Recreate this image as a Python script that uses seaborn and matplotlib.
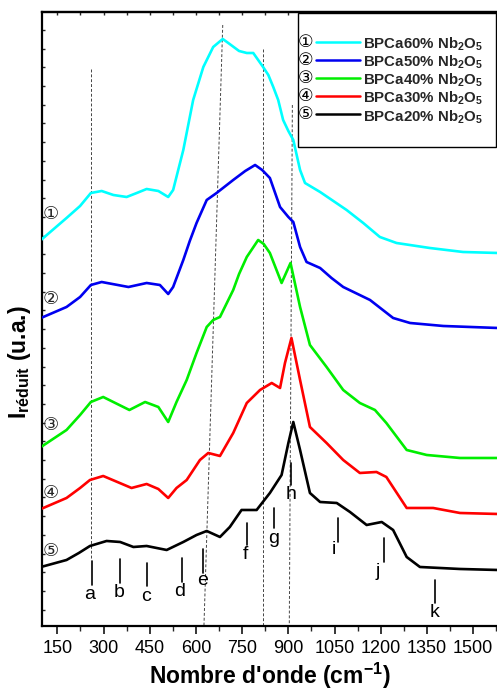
import numpy as np
import pandas as pd
import seaborn as sns
import matplotlib
matplotlib.use("Agg")
import matplotlib.pyplot as plt
from matplotlib.lines import Line2D
from matplotlib.text import Text
from matplotlib.legend_handler import HandlerLine2D
from matplotlib.patches import Rectangle
from matplotlib.ticker import MultipleLocator

# ---------------- data ----------------
samples = ["BPCa60%", "BPCa50%", "BPCa40%", "BPCa30%", "BPCa20%"]
circled = ["①", "②", "③", "④", "⑤"]
colors = ["#00FFFF", "#0000F0", "#00EE00", "#FF0000", "#000000"]

wn_cyan = [97, 180, 224, 259, 294, 332, 375, 408, 440, 478, 510, 526, 559, 591, 624, 656, 687,
           705, 740, 765, 786, 818, 835, 851, 867, 883, 900, 916, 938, 954, 1003, 1089, 1143,
           1197, 1251, 1359, 1467, 1580]
I_cyan = [386, 408, 420, 433, 435, 431, 429, 433, 437, 435, 429, 436, 476, 526, 559, 579, 587,
          583, 575, 573, 573, 559, 551, 539, 526, 506, 495, 486, 456, 443, 434, 416, 403,
          389, 383, 378, 374, 373]

wn_blue = [97, 180, 224, 259, 294, 381, 440, 483, 510, 526, 559, 580, 602, 635, 667, 721, 760,
           792, 815, 840, 873, 900, 916, 938, 959, 1003, 1040, 1078, 1165, 1240, 1295, 1403, 1580]
I_blue = [308, 319, 329, 341, 344, 339, 343, 341, 332, 339, 366, 385, 403, 426, 433, 446, 455,
          461, 456, 448, 419, 409, 404, 379, 364, 358, 348, 339, 326, 308, 303, 300, 298]

wn_green = [97, 180, 224, 259, 299, 384, 435, 478, 510, 537, 570, 602, 635, 656, 678, 721, 740,
            765, 802, 820, 840, 878, 907, 938, 970, 1024, 1078, 1132, 1181, 1218, 1284, 1349,
            1457, 1580]
I_green = [179, 196, 211, 224, 229, 216, 224, 219, 204, 224, 246, 273, 299, 306, 309, 336, 352,
           369, 386, 382, 373, 343, 363, 319, 281, 259, 236, 223, 216, 203, 176, 171,
           168, 168]

wn_red = [97, 180, 224, 256, 299, 391, 440, 478, 510, 537, 570, 613, 640, 678, 721, 765, 808,
          846, 873, 889, 910, 938, 970, 1024, 1078, 1132, 1186, 1218, 1284, 1370, 1457, 1580]
I_red = [117, 128, 138, 146, 150, 138, 142, 137, 128, 138, 146, 166, 173, 170, 193, 223, 236,
         243, 238, 263, 288, 246, 199, 183, 166, 153, 154, 149, 118, 118, 113, 112]

wn_black = [97, 180, 220, 256, 310, 354, 397, 440, 505, 559, 602, 635, 678, 710, 748, 797, 840,
            878, 900, 916, 938, 970, 1003, 1057, 1100, 1154, 1203, 1240, 1284, 1327, 1457, 1580]
I_black = [59, 66, 73, 80, 85, 84, 79, 80, 76, 84, 91, 95, 89, 99, 116, 116, 133,
           151, 183, 204, 176, 133, 124, 123, 114, 101, 104, 96, 69, 59, 57, 56]

# guide (dashed) lines: x at top, x at bottom, y top, y bottom
guide_x_top = [260, 687, 818, 913]
guide_x_bot = [260, 626, 818, 903]
guide_y_top = [557, 601, 577, 521]
guide_y_bot = [66, 0, 0, 0]

# band markers
band_letters = ["a", "b", "c", "d", "e", "f", "g", "h", "i", "j", "k"]
band_x = [263, 353, 440, 554, 624, 767, 853, 908, 1062, 1210, 1376]
band_y_top = [65, 67, 63, 68, 77, 103, 118, 163, 108, 88, 46]
band_y_bot = [41, 43, 40, 44, 53, 81, 98, 141, 84, 64, 23]
letter_x = [256, 350, 438, 548, 621, 760, 853, 908, 1049, 1190, 1376]
letter_y = [31, 33, 29, 34, 45, 71, 87, 131, 76, 54, 13]

# curve number labels at the left
num_x = 129
num_y = [412, 327, 201, 133, 75]

x_ticks = [150, 300, 450, 600, 750, 900, 1050, 1200, 1350, 1500]
x_lim = (99.4, 1582)
y_lim = (0, 614.3)

# ---------------- build table ----------------
series = [(wn_cyan, I_cyan), (wn_blue, I_blue), (wn_green, I_green), (wn_red, I_red), (wn_black, I_black)]
frames = []
for name, (w, v) in zip(samples, series):
    frames.append(pd.DataFrame({"wn": w, "I": v, "sample": name}))
df = pd.concat(frames, ignore_index=True)

# ---------------- style ----------------
sns.set_theme(style="white")
plt.rcParams["font.family"] = ["Liberation Sans", "DejaVu Sans"]
plt.rcParams["mathtext.fontset"] = "custom"
plt.rcParams["mathtext.rm"] = "Liberation Sans"
plt.rcParams["mathtext.bf"] = "Liberation Sans:bold"
plt.rcParams["mathtext.it"] = "Liberation Sans:italic"

fig = plt.figure(figsize=(4.97, 6.92), dpi=100)
ax = fig.add_axes([0.0839, 0.0954, 0.9191, 0.8877])

sns.lineplot(data=df, x="wn", y="I", hue="sample", palette=dict(zip(samples, colors)),
             hue_order=samples, estimator=None, sort=False, legend=False, linewidth=1.9, ax=ax,
             zorder=3)
for ln in ax.get_lines():
    ln.set_solid_joinstyle("round")

# dashed guide lines
for xt, xb, yt, yb in zip(guide_x_top, guide_x_bot, guide_y_top, guide_y_bot):
    ax.plot([xt, xb], [yt, yb], color="#444444", lw=0.7, dashes=(3, 2), zorder=2)

# band markers
for xb, yt, yb in zip(band_x, band_y_top, band_y_bot):
    ax.plot([xb, xb], [yb, yt], color="black", lw=1.2, zorder=3)
for lx, ly, s in zip(letter_x, letter_y, band_letters):
    ax.text(lx, ly, s, ha="center", va="center", fontsize=14, color="black", zorder=4)

# curve numbers
for ny, s in zip(num_y, circled):
    ax.text(num_x, ny, s, ha="center", va="center", fontsize=13, family=["DejaVu Sans"], zorder=4)

ax.set_xlim(*x_lim)
ax.set_ylim(*y_lim)
ax.set_xticks(x_ticks)
ax.xaxis.set_minor_locator(MultipleLocator(75))
ax.yaxis.set_major_locator(MultipleLocator(18.7, offset=16.3))
ax.tick_params(axis="x", which="major", direction="out", length=6, width=1.1, labelsize=13,
               bottom=True, top=False, pad=4, colors="black")
ax.tick_params(axis="x", which="minor", direction="out", length=3.5, width=1.0, bottom=True, top=False)
ax.tick_params(axis="y", which="major", direction="in", length=2.5, width=1.0, left=True,
               right=False, labelleft=False)
for sp in ["left", "bottom", "top", "right"]:
    ax.spines[sp].set_color("black")
    ax.spines[sp].set_linewidth(1.6)

secax = ax.secondary_xaxis("top")
secax.set_xticks(x_ticks)
secax.xaxis.set_minor_locator(MultipleLocator(75))
secax.tick_params(axis="x", which="both", direction="in", length=2.5, width=1.0, labeltop=False)
secax.spines["top"].set_linewidth(1.6)

ax.set_xlabel("Nombre d'onde (cm$^{\\mathbf{-1}}$)", fontsize=16.5, fontweight="bold", color="black")
ax.xaxis.set_label_coords(0.5, -0.056)
ax.set_ylabel("I$_{\\mathbf{réduit}}$ (u.a.)", fontsize=16.5, fontweight="bold", color="black")
ax.yaxis.set_label_coords(-0.02, 0.43)


# legend with circled numbers in front of the line
class CircledHandler(HandlerLine2D):
    def __init__(self, sym, **kw):
        super().__init__(**kw)
        self.sym = sym

    def create_artists(self, legend, orig_handle, xdescent, ydescent, width, height, fontsize, trans):
        y = (height - ydescent) / 2.0
        x0 = -xdescent
        t = Text(x0, y, self.sym, ha="left", va="center", fontsize=12.5,
                 family=["DejaVu Sans"], color="black", transform=trans)
        ln = Line2D([x0 + 0.29 * width, x0 + width], [y, y])
        self.update_prop(ln, orig_handle, legend)
        ln.set_transform(trans)
        return [t, ln]


handles = [Line2D([0], [0], color=c, lw=1.8) for c in colors]
labels = [s + " Nb$_\\mathbf{2}$O$_\\mathbf{5}$" for s in samples]
hmap = {h: CircledHandler(sym) for h, sym in zip(handles, circled)}
box = Rectangle((0.561, 0.780), 0.4346, 0.218, transform=ax.transAxes, facecolor="white",
                edgecolor="black", lw=1.0, zorder=5)
ax.add_patch(box)
leg = ax.legend(handles, labels, handler_map=hmap, loc="center left",
                bbox_to_anchor=(0.5615, 0.8885), frameon=False, borderpad=0, borderaxespad=0,
                handlelength=4.1, handletextpad=0.2, handleheight=1.43, labelspacing=0,
                prop={"weight": "bold", "size": 10.8})
leg.set_zorder(6)

fig.savefig("out.png", dpi=100)
